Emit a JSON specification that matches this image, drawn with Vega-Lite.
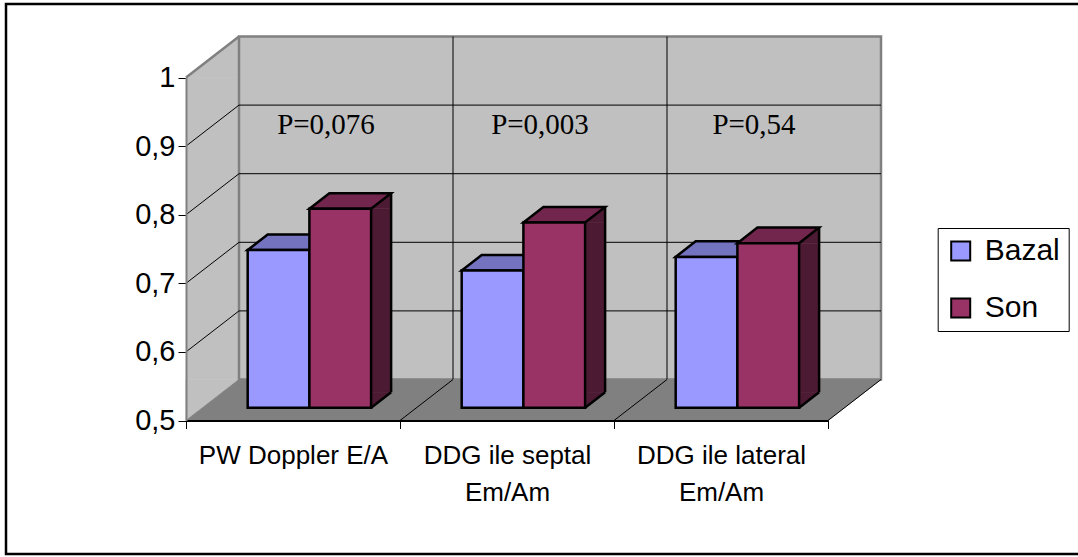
{
  "$schema": "https://vega.github.io/schema/vega-lite/v6.json",
  "width": 1075,
  "height": 550,
  "padding": {"left": 6, "top": 4, "right": -3, "bottom": 3},
  "autosize": {"type": "none"},
  "background": "white",
  "config": {
    "view": {"stroke": "#000", "strokeWidth": 2.5},
    "font": "Liberation Sans"
  },
  "datasets": {
    "bars": [
      {"cat": "PW Doppler E/A", "series": "Bazal", "value": 0.73},
      {"cat": "PW Doppler E/A", "series": "Son", "value": 0.79},
      {"cat": "DDG ile septal Em/Am", "series": "Bazal", "value": 0.70},
      {"cat": "DDG ile septal Em/Am", "series": "Son", "value": 0.77},
      {"cat": "DDG ile lateral Em/Am", "series": "Bazal", "value": 0.72},
      {"cat": "DDG ile lateral Em/Am", "series": "Son", "value": 0.74}
    ],
    "pvalues": [
      {"cat": "PW Doppler E/A", "p": "P=0,076"},
      {"cat": "DDG ile septal Em/Am", "p": "P=0,003"},
      {"cat": "DDG ile lateral Em/Am", "p": "P=0,54"}
    ],
    "grid": [{"g": 0.6}, {"g": 0.7}, {"g": 0.8}, {"g": 0.9}],
    "dividers": [{"c": 1}, {"c": 2}],
    "floorLines": [{"c": 1}, {"c": 2}, {"c": 3}],
    "one": [{}]
  },
  "resolve": {"scale": {"x": "independent", "y": "independent"}},
  "layer": [
    {
      "data": {"name": "one"},
      "mark": {"type": "rect", "fill": "#C0C0C0", "x2Offset": 53, "y2Offset": -41},
      "encoding": {
        "x": {"datum": 0, "type": "quantitative", "scale": {"domain": [0, 3], "range": [180, 822], "nice": false, "zero": false}, "axis": null},
        "x2": {"datum": 0},
        "y": {"datum": 1, "type": "quantitative", "scale": {"domain": [0.5, 1], "range": [416.5, 73.5], "nice": false, "zero": false}, "axis": null},
        "y2": {"datum": 0.5}
      }
    },
    {
      "data": {"name": "one"},
      "mark": {"type": "point", "shape": "M0,0L53,-41L53,0Z", "size": 4, "filled": true, "fill": "#C0C0C0", "stroke": "#C0C0C0", "strokeWidth": 0.8, "opacity": 1},
      "encoding": {
        "x": {"datum": 0, "type": "quantitative", "scale": {"domain": [0, 3], "range": [180, 822], "nice": false, "zero": false}, "axis": null},
        "y": {"datum": 1, "type": "quantitative", "scale": {"domain": [0.5, 1], "range": [416.5, 73.5], "nice": false, "zero": false}, "axis": null}
      }
    },
    {
      "data": {"name": "one"},
      "mark": {"type": "point", "shape": "M0,0L0,-41L53,-41Z", "size": 4, "filled": true, "fill": "#C0C0C0", "stroke": "#C0C0C0", "strokeWidth": 0.8, "opacity": 1},
      "encoding": {
        "x": {"datum": 0, "type": "quantitative", "scale": {"domain": [0, 3], "range": [180, 822], "nice": false, "zero": false}, "axis": null},
        "y": {"datum": 0.5, "type": "quantitative", "scale": {"domain": [0.5, 1], "range": [416.5, 73.5], "nice": false, "zero": false}, "axis": null}
      }
    },
    {
      "data": {"name": "one"},
      "mark": {"type": "rect", "fill": "#C0C0C0", "stroke": "#808080", "strokeWidth": 2.5, "xOffset": 53, "x2Offset": 53, "yOffset": -41, "y2Offset": -41},
      "encoding": {
        "x": {"datum": 0, "type": "quantitative", "scale": {"domain": [0, 3], "range": [180, 822], "nice": false, "zero": false}, "axis": null},
        "x2": {"datum": 3},
        "y": {"datum": 0.5, "type": "quantitative", "scale": {"domain": [0.5, 1], "range": [416.5, 73.5], "nice": false, "zero": false}, "axis": null},
        "y2": {"datum": 1}
      }
    },
    {
      "data": {"name": "grid"},
      "mark": {"type": "rule", "stroke": "#000", "strokeWidth": 1, "xOffset": 53, "x2Offset": 53, "yOffset": -41},
      "encoding": {
        "x": {"datum": 0, "type": "quantitative", "scale": {"domain": [0, 3], "range": [180, 822], "nice": false, "zero": false}, "axis": null},
        "x2": {"datum": 3},
        "y": {"field": "g", "type": "quantitative", "scale": {"domain": [0.5, 1], "range": [416.5, 73.5], "nice": false, "zero": false}, "axis": null}
      }
    },
    {
      "data": {"name": "dividers"},
      "mark": {"type": "rule", "stroke": "#000", "strokeWidth": 1, "xOffset": 53, "yOffset": -41, "y2Offset": -41},
      "encoding": {
        "x": {"field": "c", "type": "quantitative", "scale": {"domain": [0, 3], "range": [180, 822], "nice": false, "zero": false}, "axis": null},
        "y": {"datum": 0.5, "type": "quantitative", "scale": {"domain": [0.5, 1], "range": [416.5, 73.5], "nice": false, "zero": false}, "axis": null},
        "y2": {"datum": 1}
      }
    },
    {
      "data": {"name": "grid"},
      "mark": {"type": "rule", "stroke": "#000", "strokeWidth": 1, "x2Offset": 53, "y2Offset": -41},
      "encoding": {
        "x": {"datum": 0, "type": "quantitative", "scale": {"domain": [0, 3], "range": [180, 822], "nice": false, "zero": false}, "axis": null},
        "x2": {"datum": 0},
        "y": {"field": "g", "type": "quantitative", "scale": {"domain": [0.5, 1], "range": [416.5, 73.5], "nice": false, "zero": false}, "axis": null},
        "y2": {"field": "g"}
      }
    },
    {
      "data": {"name": "one"},
      "mark": {"type": "point", "shape": "M0,0L53,-41", "size": 4, "filled": false, "stroke": "#808080", "strokeWidth": 2.5, "opacity": 1},
      "encoding": {
        "x": {"datum": 0, "type": "quantitative", "scale": {"domain": [0, 3], "range": [180, 822], "nice": false, "zero": false}, "axis": null},
        "y": {"datum": 1, "type": "quantitative", "scale": {"domain": [0.5, 1], "range": [416.5, 73.5], "nice": false, "zero": false}, "axis": null}
      }
    },
    {
      "data": {"name": "one"},
      "mark": {"type": "rect", "fill": "#808080", "xOffset": 53, "y2Offset": -41},
      "encoding": {
        "x": {"datum": 0, "type": "quantitative", "scale": {"domain": [0, 3], "range": [180, 822], "nice": false, "zero": false}, "axis": null},
        "x2": {"datum": 3},
        "y": {"datum": 0.5, "type": "quantitative", "scale": {"domain": [0.5, 1], "range": [416.5, 73.5], "nice": false, "zero": false}, "axis": null},
        "y2": {"datum": 0.5}
      }
    },
    {
      "data": {"name": "one"},
      "mark": {"type": "point", "shape": "M0,0L53,-41L53,0Z", "size": 4, "filled": true, "fill": "#808080", "stroke": "#808080", "strokeWidth": 0.8, "opacity": 1},
      "encoding": {
        "x": {"datum": 0, "type": "quantitative", "scale": {"domain": [0, 3], "range": [180, 822], "nice": false, "zero": false}, "axis": null},
        "y": {"datum": 0.5, "type": "quantitative", "scale": {"domain": [0.5, 1], "range": [416.5, 73.5], "nice": false, "zero": false}, "axis": null}
      }
    },
    {
      "data": {"name": "one"},
      "mark": {"type": "point", "shape": "M0,0L53,-41L0,-41Z", "size": 4, "filled": true, "fill": "#808080", "stroke": "#808080", "strokeWidth": 0.8, "opacity": 1},
      "encoding": {
        "x": {"datum": 3, "type": "quantitative", "scale": {"domain": [0, 3], "range": [180, 822], "nice": false, "zero": false}, "axis": null},
        "y": {"datum": 0.5, "type": "quantitative", "scale": {"domain": [0.5, 1], "range": [416.5, 73.5], "nice": false, "zero": false}, "axis": null}
      }
    },
    {
      "data": {"name": "floorLines"},
      "mark": {"type": "rule", "stroke": "#000", "strokeWidth": 1, "x2Offset": 53, "y2Offset": -41},
      "encoding": {
        "x": {"field": "c", "type": "quantitative", "scale": {"domain": [0, 3], "range": [180, 822], "nice": false, "zero": false}, "axis": null},
        "x2": {"field": "c"},
        "y": {"datum": 0.5, "type": "quantitative", "scale": {"domain": [0.5, 1], "range": [416.5, 73.5], "nice": false, "zero": false}, "axis": null},
        "y2": {"datum": 0.5}
      }
    },
    {
      "data": {"name": "pvalues"},
      "mark": {"type": "text", "font": "Liberation Serif", "fontSize": 29, "dx": 33, "dy": -12, "baseline": "alphabetic", "align": "center", "color": "#000"},
      "encoding": {
        "x": {
          "field": "cat", "type": "nominal", "sort": null,
          "scale": {"domain": ["PW Doppler E/A", "DDG ile septal Em/Am", "DDG ile lateral Em/Am"], "range": [180, 822], "paddingInner": 0, "paddingOuter": 0},
          "axis": {
            "orient": "bottom", "offset": -133.5, "title": null, "tickBand": "extent", "grid": false, "zindex": 1,
            "domainColor": "#000", "domainWidth": 2, "tickColor": "#000", "tickSize": 8, "tickWidth": 1,
            "labelAngle": 0, "labelFont": "Liberation Sans", "labelFontSize": 26, "labelColor": "#000",
            "labelPadding": 14, "labelLineHeight": 37, "labelLimit": 0,
            "labelExpr": "datum.label == 'DDG ile septal Em/Am' ? ['DDG ile septal', 'Em/Am'] : datum.label == 'DDG ile lateral Em/Am' ? ['DDG ile lateral', 'Em/Am'] : datum.label == 'PW Doppler E/A' ? datum.label : ''"
          }
        },
        "y": {
          "datum": 0.9, "type": "quantitative",
          "scale": {"domain": [0.5, 1], "range": [416.5, 73.5], "nice": false, "zero": false},
          "axis": {
            "orient": "left", "offset": -180, "title": null, "grid": false, "zindex": 1,
            "values": [0.5, 0.6, 0.7, 0.8, 0.9, 1],
            "labelExpr": "replace(toString(datum.value), '.', ',')",
            "domainColor": "#808080", "domainWidth": 2, "tickColor": "#000", "tickSize": 8, "tickWidth": 1,
            "labelFont": "Liberation Sans", "labelFontSize": 29, "labelColor": "#000", "labelPadding": 3
          }
        },
        "text": {"field": "p"}
      }
    },
    {
      "data": {"name": "bars"},
      "transform": [{"filter": "datum.series === 'Son'"}],
      "mark": {"type": "rule", "stroke": "#4D1A33", "strokeWidth": 20, "xOffset": 71.7, "y2Offset": -15.6},
      "encoding": {
        "x": {"field": "cat", "type": "nominal", "sort": null, "scale": {"domain": ["PW Doppler E/A", "DDG ile septal Em/Am", "DDG ile lateral Em/Am"], "range": [196.4, 838.4], "paddingInner": 0, "paddingOuter": 0}, "axis": null},
        "y": {"field": "value", "type": "quantitative", "scale": {"domain": [0.5, 1], "range": [403.8, 60.8], "nice": false, "zero": false}, "axis": null},
        "y2": {"datum": 0.5}
      }
    },
    {
      "data": {"name": "bars"},
      "transform": [{"filter": "datum.series === 'Son'"}],
      "mark": {"type": "point", "shape": "M0,0L20,-15.6L20,0Z", "size": 4, "filled": true, "fill": "#4D1A33", "stroke": "#4D1A33", "strokeWidth": 0.8, "opacity": 1, "xOffset": 61.7},
      "encoding": {
        "x": {"field": "cat", "type": "nominal", "sort": null, "scale": {"domain": ["PW Doppler E/A", "DDG ile septal Em/Am", "DDG ile lateral Em/Am"], "range": [196.4, 838.4], "paddingInner": 0, "paddingOuter": 0}, "axis": null},
        "y": {"field": "value", "type": "quantitative", "scale": {"domain": [0.5, 1], "range": [403.8, 60.8], "nice": false, "zero": false}, "axis": null}
      }
    },
    {
      "data": {"name": "bars"},
      "transform": [{"filter": "datum.series === 'Son'"}],
      "mark": {"type": "point", "shape": "M0,0L0,-15.6L20,-15.6Z", "size": 4, "filled": true, "fill": "#4D1A33", "stroke": "#4D1A33", "strokeWidth": 0.8, "opacity": 1, "xOffset": 61.7},
      "encoding": {
        "x": {"field": "cat", "type": "nominal", "sort": null, "scale": {"domain": ["PW Doppler E/A", "DDG ile septal Em/Am", "DDG ile lateral Em/Am"], "range": [196.4, 838.4], "paddingInner": 0, "paddingOuter": 0}, "axis": null},
        "y": {"datum": 0.5, "type": "quantitative", "scale": {"domain": [0.5, 1], "range": [403.8, 60.8], "nice": false, "zero": false}, "axis": null}
      }
    },
    {
      "data": {"name": "bars"},
      "transform": [{"filter": "datum.series === 'Son'"}],
      "mark": {"type": "rule", "stroke": "#000", "strokeWidth": 2.5, "xOffset": 81.7, "yOffset": -15.6, "y2Offset": -15.6},
      "encoding": {
        "x": {"field": "cat", "type": "nominal", "sort": null, "scale": {"domain": ["PW Doppler E/A", "DDG ile septal Em/Am", "DDG ile lateral Em/Am"], "range": [196.4, 838.4], "paddingInner": 0, "paddingOuter": 0}, "axis": null},
        "y": {"field": "value", "type": "quantitative", "scale": {"domain": [0.5, 1], "range": [403.8, 60.8], "nice": false, "zero": false}, "axis": null},
        "y2": {"datum": 0.5}
      }
    },
    {
      "data": {"name": "bars"},
      "transform": [{"filter": "datum.series === 'Son'"}],
      "mark": {"type": "point", "shape": "M0,0L20,-15.6", "size": 4, "filled": false, "stroke": "#000", "strokeWidth": 2.5, "opacity": 1, "xOffset": 61.7},
      "encoding": {
        "x": {"field": "cat", "type": "nominal", "sort": null, "scale": {"domain": ["PW Doppler E/A", "DDG ile septal Em/Am", "DDG ile lateral Em/Am"], "range": [196.4, 838.4], "paddingInner": 0, "paddingOuter": 0}, "axis": null},
        "y": {"datum": 0.5, "type": "quantitative", "scale": {"domain": [0.5, 1], "range": [403.8, 60.8], "nice": false, "zero": false}, "axis": null}
      }
    },
    {
      "data": {"name": "bars"},
      "mark": {"type": "point", "shape": "M-30.85,0L30.85,0L50.85,-15.6L-10.85,-15.6Z", "size": 4, "filled": true, "stroke": "#000", "strokeWidth": 2.5, "strokeJoin": "miter", "opacity": 1},
      "encoding": {
        "x": {"field": "cat", "type": "nominal", "sort": null, "scale": {"domain": ["PW Doppler E/A", "DDG ile septal Em/Am", "DDG ile lateral Em/Am"], "range": [196.4, 838.4], "paddingInner": 0, "paddingOuter": 0}, "axis": null},
        "xOffset": {"field": "series", "type": "nominal", "scale": {"domain": ["Bazal", "Son"], "paddingInner": 0, "paddingOuter": 0.734}},
        "y": {"field": "value", "type": "quantitative", "scale": {"domain": [0.5, 1], "range": [403.8, 60.8], "nice": false, "zero": false}, "axis": null},
        "fill": {"condition": {"test": "datum.series === 'Bazal'", "value": "#7373BF"}, "value": "#73264D"}
      }
    },
    {
      "data": {"name": "bars"},
      "mark": {"type": "bar", "stroke": "#000", "strokeWidth": 2.5, "strokeJoin": "miter"},
      "encoding": {
        "x": {"field": "cat", "type": "nominal", "sort": null, "scale": {"domain": ["PW Doppler E/A", "DDG ile septal Em/Am", "DDG ile lateral Em/Am"], "range": [196.4, 838.4], "paddingInner": 0, "paddingOuter": 0}, "axis": null},
        "xOffset": {"field": "series", "type": "nominal", "scale": {"domain": ["Bazal", "Son"], "paddingInner": 0, "paddingOuter": 0.734}},
        "y": {"field": "value", "type": "quantitative", "scale": {"domain": [0.5, 1], "range": [403.8, 60.8], "nice": false, "zero": false}, "axis": null},
        "y2": {"datum": 0.5},
        "color": {
          "field": "series", "type": "nominal",
          "scale": {"domain": ["Bazal", "Son"], "range": ["#9999FF", "#993366"]},
          "legend": {
            "orient": "none", "legendX": 931.7, "legendY": 224, "title": null, "direction": "vertical",
            "padding": 8, "strokeColor": "#000", "fillColor": "#fff",
            "symbolType": "square", "symbolSize": 361, "symbolStrokeColor": "#000", "symbolStrokeWidth": 2, "symbolOpacity": 1,
            "labelFont": "Liberation Sans", "labelFontSize": 30, "labelColor": "#000", "labelOffset": 9, "rowPadding": 27
          }
        }
      }
    }
  ]
}
